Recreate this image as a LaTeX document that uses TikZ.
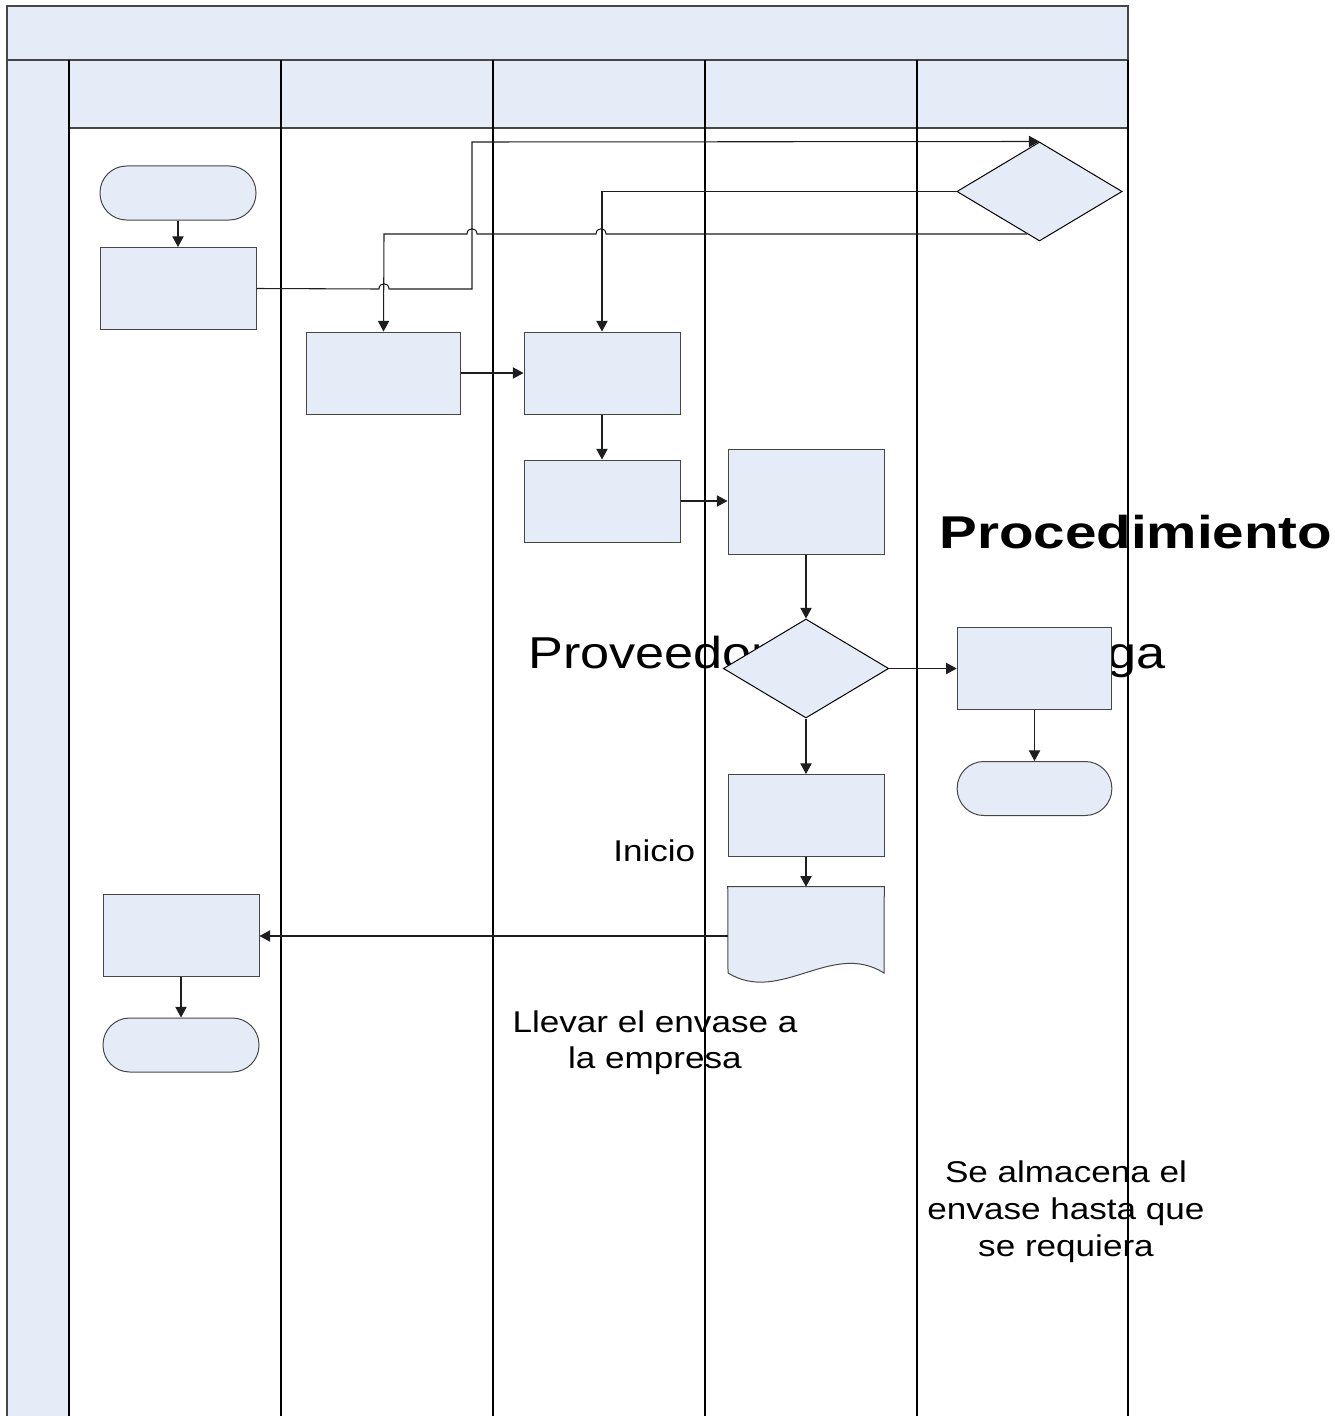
\documentclass[tikz,border=0pt]{standalone}
\usepackage{fontspec}
\setmainfont{Liberation Sans}
\usetikzlibrary{arrows.meta,shapes.geometric,calc}
\definecolor{boxfill}{RGB}{230,236,247}
\definecolor{boxline}{RGB}{70,70,70}
\definecolor{flowcol}{RGB}{30,30,30}
\tikzset{
  lane/.style={draw=black, line width=1pt},
  band/.style={draw=boxline, fill=boxfill, line width=1pt},
  proc/.style={draw=boxline, fill=boxfill, line width=0.75pt, inner sep=0pt,
               minimum width=117pt, minimum height=61.5pt},
  term/.style={proc, rounded corners=20pt, minimum height=40.5pt},
  dec/.style={diamond, draw=black, fill=boxfill, line width=0.75pt, inner sep=0pt,
              minimum width=124pt, minimum height=74.25pt},
  flow/.style={draw=flowcol, line width=0.8pt, -{Triangle[length=8pt,width=8.5pt]}},
  txt/.style={inner sep=0pt, font=\fontsize{22.5}{27}\selectfont},
  bigtxt/.style={inner sep=0pt, font=\fontsize{33.5}{40}\selectfont},
  titletxt/.style={inner sep=0pt, font=\fontsize{34.5}{40}\selectfont\bfseries}
}
\newcommand{\wide}[1]{\scalebox{1.17}[1]{#1}}
\begin{document}
\begin{tikzpicture}[x=0.75pt,y=-0.75pt]
\useasboundingbox (0,0) rectangle (1334,1416);
\clip (0,0) rectangle (1334,1416);

% pool frame: title bar, side column, lane headers
\path[band] (7,6) rectangle (1128,60);
\path[band] (7,60) rectangle (69,1430);
\path[band] (69,60) rectangle (1128,128);

% free texts
\node[titletxt, anchor=base west] (ttl) at (939,548) {\scalebox{1.23}[1]{Procedimiento}};
\node[bigtxt, anchor=base west] (prov) at (528,668) {\wide{Proveedor}};
\node[bigtxt, anchor=base west] (ga) at (1107,668) {\wide{ga}};
\node[txt, anchor=base west] (ini) at (613,861) {\wide{Inicio}};
\node[txt, anchor=base] (ll1) at (655,1032) {\wide{Llevar el envase a}};
\node[txt, anchor=base] (ll2) at (655,1068) {\wide{la empresa}};
\node[txt, anchor=base] (se1) at (1066,1182) {\wide{Se almacena el}};
\node[txt, anchor=base] (se2) at (1066,1219) {\wide{envase hasta que}};
\node[txt, anchor=base] (se3) at (1066,1256) {\wide{se requiera}};

% lane separators
\foreach \x in {69,281,493,705,917,1128}
  \draw[lane] (\x,60) -- (\x,1430);

% flow shapes
\node[term] (t1) at (178,193) {};
\node[proc] (a) at (178,288.5) {};
\node[proc, minimum width=116pt] (b) at (383.5,373) {};
\node[proc] (c) at (602,373) {};
\node[proc] (d) at (602,501) {};
\node[proc, minimum height=78.75pt] (e) at (806,501.5) {};
\node[dec] (q1) at (1039.5,191.5) {};
\node[dec] (q2) at (806,668.5) {};
\node[proc, minimum width=116pt, minimum height=62pt] (f) at (1034.5,668.5) {};
\node[term, minimum width=116pt] (t2) at (1034.5,788.5) {};
\node[proc] (g) at (806,815.5) {};
\node[draw=none, minimum width=117pt, minimum height=64.5pt, inner sep=0pt] (doc) at (806,930) {};
\path[draw=boxline, fill=boxfill, line width=0.75pt]
  (doc.north west) -- (doc.north east) -- (884,973)
  .. controls (832,940) and (780,1005) .. (728,973) -- cycle;
\node[proc] (h) at (181,935.5) {};
\node[term] (t3) at (181,1045) {};

% connectors
\draw[flow] (t1.south) -- (a.north);
\draw[flow] (a.east) -- (379,289) .. controls (379,282) and (389,282) .. (389,289)
  -- (472,289) -- (472,142) -- (q1.north);
\draw[flow] (q1.west) -| (c.north);
\coordinate (q1sw) at ($(q1.west)!0.85!(q1.south)$);
\draw[flow] (q1sw) -- (606,234) .. controls (606,227) and (596,227) .. (596,234)
  -- (477,234) .. controls (477,227) and (467,227) .. (467,234)
  -- (384,234) -- (b.north);
\draw[flow] (b.east) -- (c.west);
\draw[flow] (c.south) -- (d.north);
\draw[flow] (d.east) -- (e.west |- d.east);
\draw[flow] (e.south) -- (q2.north);
\draw[flow] (q2.east) -- (f.west |- q2.east);
\draw[flow] (f.south) -- (t2.north);
\draw[flow] (q2.south) -- (g.north);
\draw[flow] (g.south) -- (doc.north);
\draw[flow] (728,936) -- (h.east |- 728,936);
\draw[flow] (h.south) -- (t3.north);
\end{tikzpicture}
\end{document}
